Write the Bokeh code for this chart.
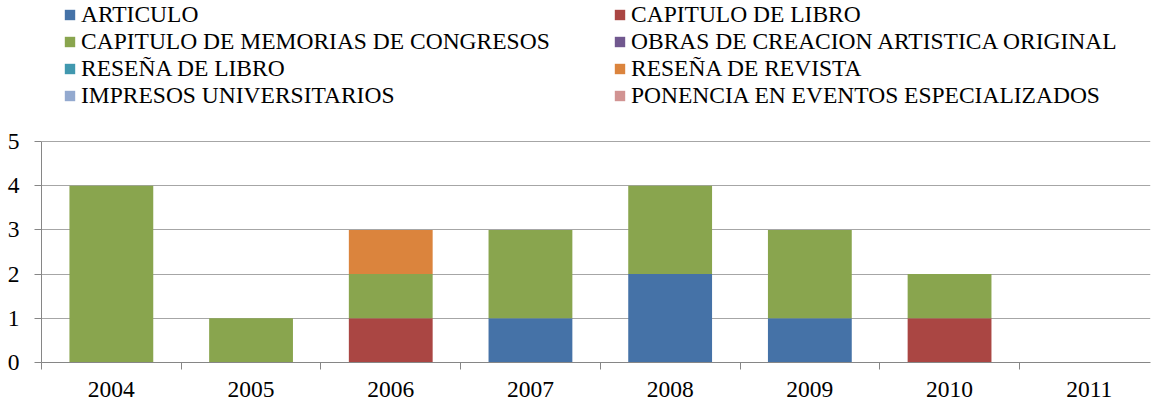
from bokeh.plotting import figure
from bokeh.models import Range1d, FixedTicker, Legend, LegendItem, ColumnDataSource
from bokeh.embed import file_html
from bokeh.resources import INLINE

years = ["2004", "2005", "2006", "2007", "2008", "2009", "2010", "2011"]
series_names = [
    "ARTICULO",
    "CAPITULO DE LIBRO",
    "CAPITULO DE MEMORIAS DE CONGRESOS",
    "OBRAS DE CREACION ARTISTICA ORIGINAL",
    "RESEÑA DE LIBRO",
    "RESEÑA DE REVISTA",
    "IMPRESOS UNIVERSITARIOS",
    "PONENCIA EN EVENTOS ESPECIALIZADOS",
]
colors = ["#4572A7", "#AA4643", "#89A54E", "#71588F",
          "#4198AF", "#DB843D", "#93A9CF", "#D19392"]

articulo = [0, 0, 0, 1, 2, 1, 0, 0]
capitulo_libro = [0, 0, 1, 0, 0, 0, 1, 0]
capitulo_memorias = [4, 1, 1, 2, 2, 2, 1, 0]
obras_creacion = [0, 0, 0, 0, 0, 0, 0, 0]
resena_libro = [0, 0, 0, 0, 0, 0, 0, 0]
resena_revista = [0, 0, 1, 0, 0, 0, 0, 0]
impresos = [0, 0, 0, 0, 0, 0, 0, 0]
ponencia = [0, 0, 0, 0, 0, 0, 0, 0]

y_ticks = [0, 1, 2, 3, 4, 5]

keys = ["s0", "s1", "s2", "s3", "s4", "s5", "s6", "s7"]
values = [articulo, capitulo_libro, capitulo_memorias, obras_creacion,
          resena_libro, resena_revista, impresos, ponencia]

centers = [i + 0.5 for i in range(len(years))]
data = {"x": centers}
for k, v in zip(keys, values):
    data[k] = v
source = ColumnDataSource(data)

FONT = "Liberation Serif"
FSIZE = "23.5px"
AXIS_GRAY = "#868686"
GRID_GRAY = "#A6A6A6"

W, H = 1151, 402
LEFT, BOTTOM = 41, 40
frame_h = H - BOTTOM
top_px = 141  # pixel row of the y=5 gridline
y_top = y_ticks[-1] * frame_h / (frame_h - top_px)
x_end = (W - 1 - LEFT) / 139.7

p = figure(width=W, height=H, output_backend="svg", toolbar_location=None,
           x_range=Range1d(0, x_end), y_range=Range1d(0, y_top),
           min_border_left=LEFT, min_border_right=1, min_border_top=0,
           min_border_bottom=BOTTOM)
p.outline_line_color = None
p.background_fill_color = "white"

renderers = p.vbar_stack(keys, x="x", width=0.6, color=colors, source=source,
                         line_color=None)

# x axis
p.xaxis.ticker = FixedTicker(ticks=centers, minor_ticks=list(range(len(years) + 1)))
p.xaxis.major_label_overrides = {c: y for c, y in zip(centers, years)}
p.xaxis.major_tick_out = 0
p.xaxis.major_tick_in = 0
p.xaxis.minor_tick_out = 7
p.xaxis.minor_tick_in = 0
p.xaxis.minor_tick_line_color = AXIS_GRAY
p.xaxis.axis_line_color = AXIS_GRAY
p.xaxis.major_label_text_font = FONT
p.xaxis.major_label_text_font_size = FSIZE
p.xaxis.major_label_text_color = "black"
p.xaxis.major_label_standoff = 12

# y axis
p.yaxis.ticker = FixedTicker(ticks=y_ticks, minor_ticks=[])
p.yaxis.bounds = (y_ticks[0], y_ticks[-1])
p.yaxis.major_tick_out = 7
p.yaxis.major_tick_in = 0
p.yaxis.major_tick_line_color = AXIS_GRAY
p.yaxis.axis_line_color = AXIS_GRAY
p.yaxis.major_label_text_font = FONT
p.yaxis.major_label_text_font_size = FSIZE
p.yaxis.major_label_text_color = "black"
p.yaxis.major_label_standoff = 15

p.xgrid.grid_line_color = None
p.ygrid.ticker = FixedTicker(ticks=y_ticks)
p.ygrid.grid_line_color = GRID_GRAY
p.ygrid.grid_line_width = 1

def make_legend(idx, loc):
    items = [LegendItem(label=series_names[i], renderers=[renderers[i]]) for i in idx]
    lg = Legend(items=items, location=loc, orientation="vertical",
                label_text_font=FONT, label_text_font_size=FSIZE,
                label_text_color="black", glyph_width=13, glyph_height=13,
                label_standoff=5, label_height=26, spacing=0, padding=0,
                margin=0, border_line_color=None, background_fill_alpha=0)
    return lg

legend_bottom = frame_h - 109
p.add_layout(make_legend([0, 2, 4, 6], (22, legend_bottom)), "center")
p.add_layout(make_legend([1, 3, 5, 7], (572, legend_bottom)), "center")

open("out.html", "w").write(file_html(p, INLINE))
